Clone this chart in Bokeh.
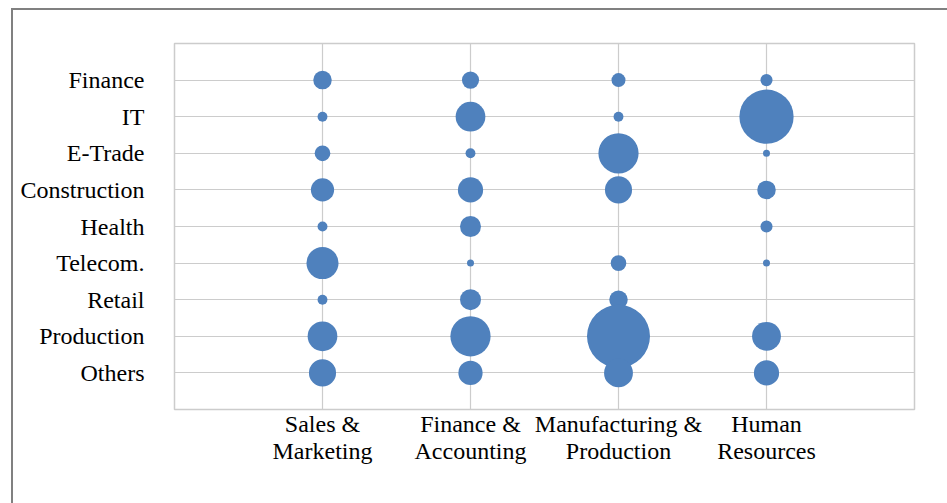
import numpy as np
from bokeh.plotting import figure
from bokeh.models import FixedTicker, Range1d, ColumnDataSource
from bokeh.embed import file_html
from bokeh.resources import INLINE

# ---- data ----
functions = ["Sales &\nMarketing", "Finance &\nAccounting",
             "Manufacturing &\nProduction", "Human\nResources"]
sectors = ["Finance", "IT", "E-Trade", "Construction", "Health",
           "Telecom.", "Retail", "Production", "Others"]
sales_marketing = [7, 2, 5, 11, 2, 21, 2, 18, 15]
finance_accounting = [6, 18, 2, 13, 9, 1, 9, 33, 12]
manufacturing_production = [4, 2, 33, 15, 0, 5, 7, 81, 17]
human_resources = [3, 60, 1, 7, 3, 1, 0, 17, 13]

series = [sales_marketing, finance_accounting, manufacturing_production, human_resources]

# ---- build source ----
n = len(sectors)
xs, ys, vals = [], [], []
for i, s in enumerate(series):
    for j, v in enumerate(s):
        if v > 0:
            xs.append(i + 1)
            ys.append(n - j)
            vals.append(v)
vals_arr = np.array(vals, dtype=float)
sizes = 7.0 * np.sqrt(vals_arr)
src = ColumnDataSource(dict(x=xs, y=ys, v=vals, size=sizes))

p = figure(width=947, height=503, output_backend="svg", toolbar_location=None,
           x_range=Range1d(0, len(functions) + 1), y_range=Range1d(0, n + 1),
           min_border_left=174, min_border_right=33, min_border_top=43,
           min_border_bottom=94)
# outer chart border (top & left edges), drawn behind a transparent canvas border
p.styles = {"box-shadow": "inset 11px 8px 0 0 white, inset 13px 10px 0 0 #808080",
            "background-color": "white"}
p.background_fill_color = "white"
p.border_fill_color = None
p.outline_line_color = "#cccccc"
p.outline_line_width = 1.5

p.scatter("x", "y", size="size", source=src, fill_color="#4f81bd",
          line_color=None)

font = "Liberation Serif"
# x axis
p.xaxis.ticker = FixedTicker(ticks=list(range(1, len(functions) + 1)))
p.xaxis.major_label_overrides = {i + 1: f for i, f in enumerate(functions)}
p.xaxis.axis_line_color = None
p.xaxis.major_tick_line_color = None
p.xaxis.minor_tick_line_color = None
p.xaxis.major_tick_out = 0
p.xaxis.major_tick_in = 0
p.xaxis.major_label_text_font = font
p.xaxis.major_label_text_font_size = "24px"
p.xaxis.major_label_text_line_height = 1.05
p.xaxis.major_label_text_color = "black"
p.xaxis.major_label_standoff = 1

# y axis
p.yaxis.ticker = FixedTicker(ticks=list(range(1, n + 1)))
p.yaxis.major_label_overrides = {n - j: s for j, s in enumerate(sectors)}
p.yaxis.axis_line_color = None
p.yaxis.major_tick_line_color = None
p.yaxis.minor_tick_line_color = None
p.yaxis.major_tick_out = 0
p.yaxis.major_tick_in = 0
p.yaxis.major_label_text_font = font
p.yaxis.major_label_text_font_size = "24px"
p.yaxis.major_label_text_color = "black"
p.yaxis.major_label_text_align = "center"
p.yaxis.major_label_standoff = 30

p.xgrid.ticker = FixedTicker(ticks=list(range(1, len(functions) + 1)))
p.ygrid.ticker = FixedTicker(ticks=list(range(1, n + 1)))
p.xgrid.grid_line_color = "#cccccc"
p.ygrid.grid_line_color = "#cccccc"
p.xgrid.grid_line_width = 1.2
p.ygrid.grid_line_width = 1.2

open("out.html", "w").write(file_html(p, INLINE))
